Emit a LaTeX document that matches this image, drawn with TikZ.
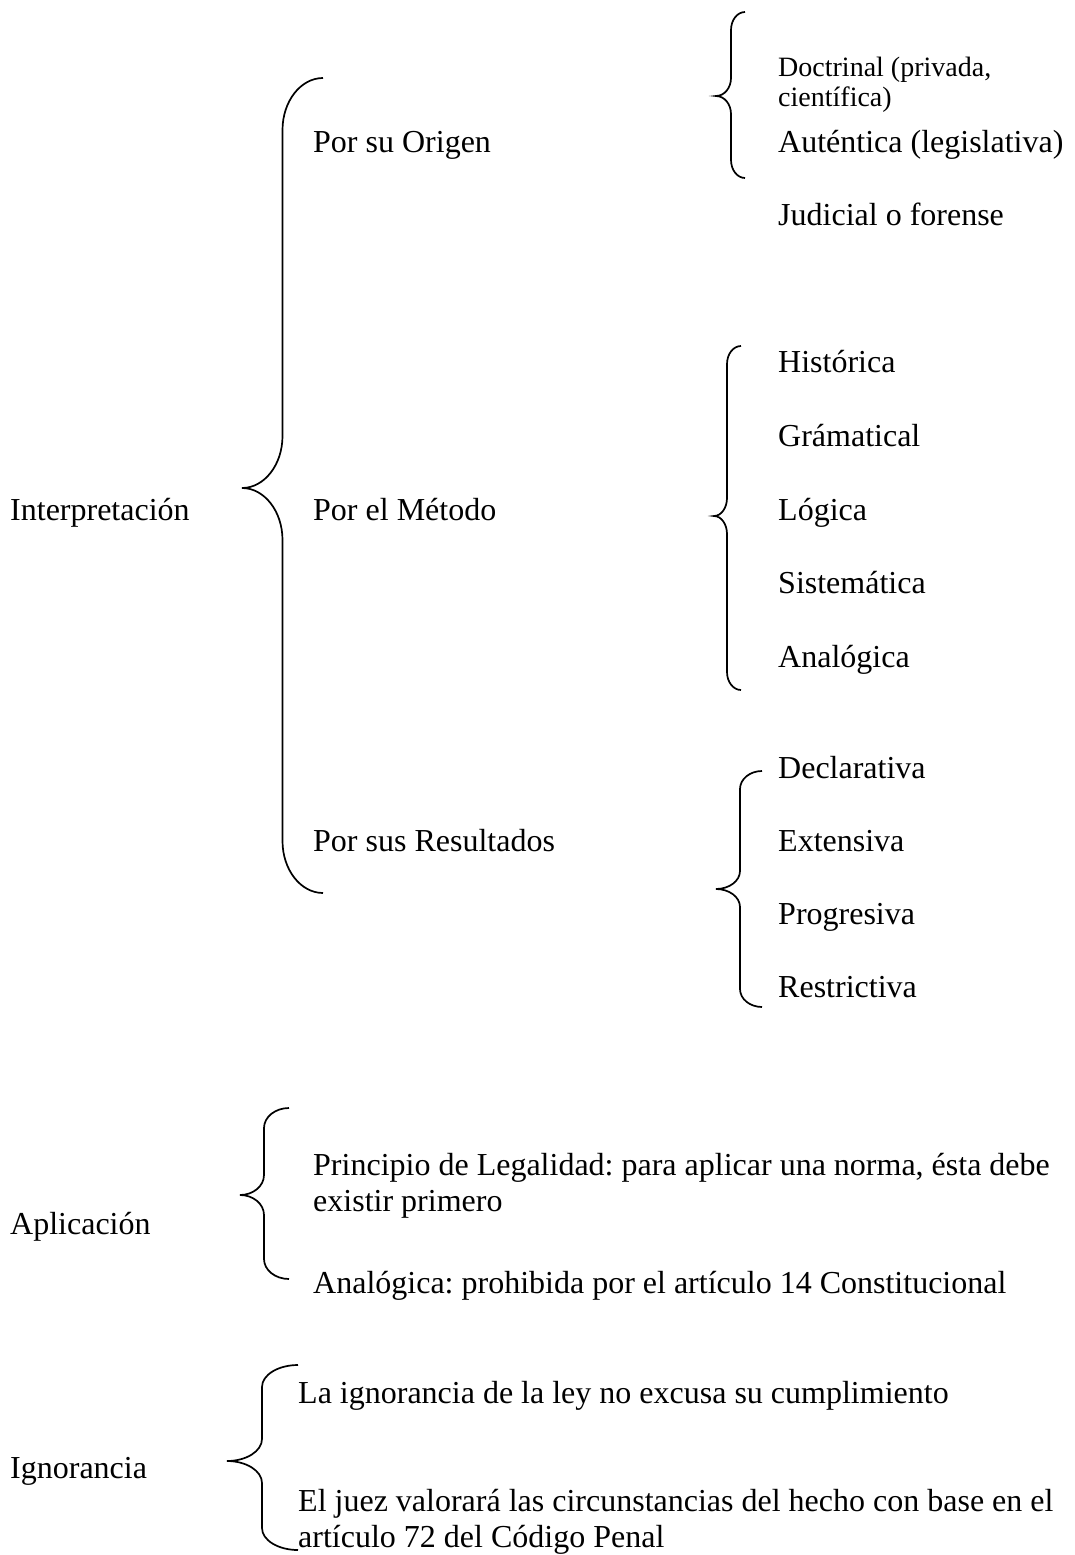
\documentclass[tikz,border=0pt]{standalone}
\usepackage{fontspec}
\setmainfont{Liberation Serif}
\frenchspacing
% xe xv xt ytop ymid ybot r
\newcommand{\wbrace}[7]{%
 \draw[bracestyle] (#1,#4) .. controls ({#1-0.552*(#1-#2)},#4) and (#2,{#4+0.448*#7}) .. (#2,{#4+#7})
   -- (#2,{#5-#7}) .. controls (#2,{#5-0.448*#7}) and ({#3+0.552*(#2-#3)},#5) .. (#3,#5)
   .. controls ({#3+0.552*(#2-#3)},#5) and (#2,{#5+0.448*#7}) .. (#2,{#5+#7})
   -- (#2,{#6-#7}) .. controls (#2,{#6-0.448*#7}) and ({#1-0.552*(#1-#2)},#6) .. (#1,#6);}
\begin{document}
\begin{tikzpicture}[x=1pt,y=-1pt,
  bracestyle/.style={draw=black,line width=1.7pt},
  txt/.style={anchor=base west,inner sep=0pt,font=\fontsize{32}{38}\selectfont},
  smalltxt/.style={anchor=base west,inner sep=0pt,font=\fontsize{28}{32}\selectfont}]
\useasboundingbox[fill=white] (0,0) rectangle (1074,1555);
% braces
\wbrace{323}{282.5}{242}{78}{488}{893}{52}
\wbrace{745}{731}{716}{12}{96}{178}{18}
\wbrace{741}{727}{714}{346}{516}{690}{18}
\wbrace{762}{740}{716}{771}{889}{1007}{18}
\wbrace{289}{264}{240}{1108}{1195}{1279}{20}
\wbrace{298}{262}{227}{1365}{1461}{1550}{22}
% texts
\node[txt] (interp) at (10,520) {Interpretación};
\node[txt] (origen) at (313,152) {Por su Origen};
\node[txt] (metodo) at (313,520) {Por el Método};
\node[txt] (result) at (313,851) {Por sus Resultados};
\node[smalltxt] (doct1) at (778,77) {Doctrinal (privada,};
\node[smalltxt] (doct2) at (778,106) {científica)};
\node[txt] (autent) at (778,152) {Auténtica (legislativa)};
\node[txt] (judic) at (778,225) {Judicial o forense};
\node[txt] (hist) at (778,372) {Histórica};
\node[txt] (gram) at (778,446) {Grámatical};
\node[txt] (logica) at (778,520) {Lógica};
\node[txt] (sist) at (778,593) {Sistemática};
\node[txt] (analog) at (778,667) {Analógica};
\node[txt] (decl) at (778,778) {Declarativa};
\node[txt] (ext) at (778,851) {Extensiva};
\node[txt] (prog) at (778,924) {Progresiva};
\node[txt] (restr) at (778,997) {Restrictiva};
\node[txt] (aplic) at (10,1234) {Aplicación};
\node[txt] (princ1) at (313,1175) {Principio de Legalidad: para aplicar una norma, ésta debe};
\node[txt] (princ2) at (313,1211) {existir primero};
\node[txt] (analog2) at (313,1293) {Analógica: prohibida por el artículo 14 Constitucional};
\node[txt] (ignor) at (10,1478) {Ignorancia};
\node[txt] (ign1) at (298,1403) {La ignorancia de la ley no excusa su cumplimiento};
\node[txt] (ign2) at (298,1511) {El juez valorará las circunstancias del hecho con base en el};
\node[txt] (ign3) at (298,1547) {artículo 72 del Código Penal};
\end{tikzpicture}
\end{document}
